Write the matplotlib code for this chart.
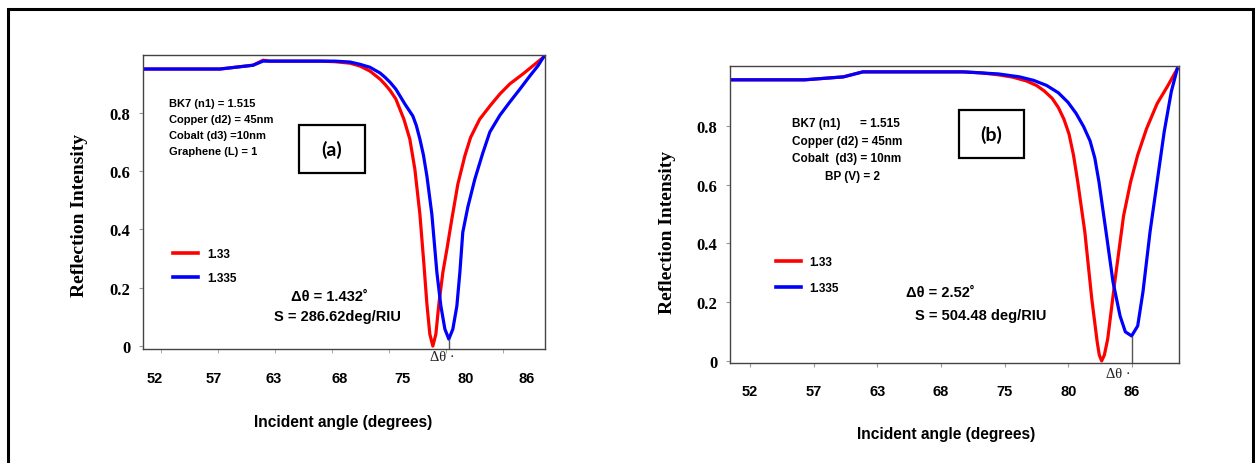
import matplotlib
matplotlib.use('Agg')
import matplotlib.pyplot as plt
from matplotlib.patches import Rectangle
import numpy as np

# x tick labels (both panels), ticks evenly spaced between 52 and 86
tick_labels = ['52', '57', '63', '68', '75', '80', '86']
ytick_vals = [0, 0.2, 0.4, 0.6, 0.8]
ytick_labels = ['0', '0.2', '0.4', '0.6', '0.8']
legend_labels = ['1.33', '1.335']

# panel (a) - graphene
a_red_x = [50.21, 57.87, 61.15, 62.14, 62.84, 67.81, 69.30, 70.79, 71.80, 72.78, 73.80, 74.27, 74.80, 75.36,
           76.16, 76.75, 77.25, 77.75, 78.15, 78.45, 78.74, 79.04, 79.34, 79.64, 80.04, 80.44, 80.93, 81.53,
           82.22, 82.80, 83.70, 84.71, 85.70, 86.70, 88.00, 89.00, 90.18]
a_red_y = [0.949, 0.949, 0.962, 0.979, 0.976, 0.976, 0.974, 0.969, 0.959, 0.942, 0.914, 0.897, 0.875, 0.846,
           0.777, 0.709, 0.606, 0.452, 0.281, 0.144, 0.041, 0.0, 0.041, 0.144, 0.253, 0.332, 0.435, 0.555,
           0.651, 0.715, 0.777, 0.822, 0.863, 0.898, 0.932, 0.960, 0.993]
a_blue_x = [50.21, 57.87, 61.15, 62.14, 62.84, 67.81, 69.30, 70.79, 71.80, 72.78, 73.80, 74.27, 74.80, 75.36,
            76.26, 77.05, 77.40, 77.75, 78.10, 78.45, 78.94, 79.44, 79.84, 80.24, 80.63, 81.03, 81.43, 81.73,
            82.02, 82.52, 83.22, 84.00, 84.71, 85.70, 86.70, 87.70, 88.69, 89.50, 90.18]
a_blue_y = [0.949, 0.949, 0.962, 0.976, 0.976, 0.976, 0.976, 0.973, 0.965, 0.955, 0.935, 0.921, 0.903, 0.880,
            0.829, 0.788, 0.755, 0.709, 0.655, 0.582, 0.452, 0.253, 0.137, 0.058, 0.024, 0.058, 0.137, 0.253,
            0.390, 0.476, 0.572, 0.660, 0.733, 0.790, 0.836, 0.880, 0.925, 0.960, 0.997]
a_info = ['BK7 (n1) = 1.515', 'Copper (d2) = 45nm', 'Cobalt (d3) =10nm', 'Graphene (L) = 1']
a_result = ['\u0394\u03b8 = 1.432\u02da', 'S = 286.62deg/RIU']

# panel (b) - black phosphorus
b_red_x = [50.35, 56.85, 60.30, 62.03, 70.98, 72.50, 74.12, 75.40, 76.62, 77.50, 78.20, 78.90, 79.45, 79.95,
           80.40, 80.80, 81.18, 81.81, 82.43, 82.91, 83.10, 83.31, 83.55, 83.85, 84.48, 85.26, 85.89, 86.52,
           87.31, 88.25, 89.19, 90.04]
b_red_y = [0.956, 0.956, 0.966, 0.983, 0.983, 0.980, 0.973, 0.965, 0.952, 0.937, 0.918, 0.893, 0.862, 0.822,
           0.772, 0.700, 0.609, 0.439, 0.211, 0.065, 0.020, 0.0, 0.020, 0.075, 0.269, 0.493, 0.609, 0.700,
           0.790, 0.875, 0.935, 0.993]
b_blue_x = [50.35, 56.85, 60.30, 62.03, 70.98, 74.12, 76.00, 77.26, 78.40, 79.45, 80.30, 81.03, 81.70, 82.28,
            82.70, 83.07, 83.70, 84.32, 84.95, 85.42, 85.98, 86.52, 86.99, 87.62, 88.25, 88.88, 89.51, 90.04]
b_blue_y = [0.956, 0.956, 0.966, 0.983, 0.983, 0.976, 0.966, 0.954, 0.937, 0.912, 0.880, 0.842, 0.797, 0.748,
            0.690, 0.609, 0.439, 0.269, 0.153, 0.099, 0.085, 0.119, 0.235, 0.439, 0.609, 0.779, 0.915, 0.993]
b_info = ['BK7 (n1)      = 1.515', 'Copper (d2) = 45nm', 'Cobalt  (d3) = 10nm', 'BP (V) = 2']
b_result = ['\u0394\u03b8 = 2.52\u02da', 'S = 504.48 deg/RIU']

tick_pos = np.linspace(52, 86, 7)
# where the pasted labels of panel (a) sit (they are off the tick marks)
a_label_pos = [51.40, 57.27, 63.23, 69.80, 76.06, 82.32, 88.39]

W, H = 1255, 464
fig = plt.figure(figsize=(W / 100, H / 100), dpi=100)
fig.patch.set_facecolor('white')

sans = 'Liberation Sans'
serif = 'Liberation Serif'


def base_axes(rect, ylim):
    ax = fig.add_axes(rect)
    ax.set_xlim(50.2, 90.2)
    ax.set_ylim(*ylim)
    for s in ax.spines.values():
        s.set_color('#444444')
        s.set_linewidth(1.0)
    ax.set_yticks(ytick_vals)
    ax.set_yticklabels(ytick_labels, fontfamily=serif, fontweight='bold', fontsize=12)
    ax.tick_params(axis='y', length=3, color='#999999', pad=6)
    return ax


def dress(ax, red_x, red_y, blue_x, blue_y, info, result, box_label, lay):
    ax.plot(red_x, red_y, color='red', lw=2.3, solid_joinstyle='round')
    ax.plot(blue_x, blue_y, color='blue', lw=2.3, solid_joinstyle='round')
    # delta theta marker at the blue minimum
    i = int(np.argmin(blue_y))
    ax.vlines(blue_x[i], ax.get_ylim()[0], blue_y[i], color='#555555', lw=1)
    ax.text(lay['dt'][0], lay['dt'][1], '\u0394\u03b8 \u00b7', transform=ax.transAxes, ha='center', va='center',
            fontfamily=serif, fontsize=10.5, color='#222222')

    ax.set_ylabel('Reflection Intensity', fontfamily=serif, fontweight='bold', fontsize=14, va='center')
    ax.yaxis.set_label_coords(*lay['ylab'])
    ax.set_xlabel('Incident angle (degrees)', fontfamily=sans, fontweight='bold', fontsize=11.2, va='center')
    ax.xaxis.set_label_coords(*lay['xlab'])

    for k, line in enumerate(info):
        ax.text(lay['info_x'][k], lay['info_y'][k], line, transform=ax.transAxes, ha='left', va='center',
                fontfamily=sans, fontweight='bold', fontsize=lay['info_fs'])

    bx, by, bw, bh = lay['box']
    ax.add_patch(Rectangle((bx, by), bw, bh, transform=ax.transAxes, fill=False, ec='black', lw=1.6))
    ax.text(bx + bw / 2, by + bh / 2, box_label, transform=ax.transAxes, ha='center', va='center',
            fontfamily='Lato', fontweight='bold', fontsize=14)

    for k, line in enumerate(result):
        ax.text(lay['res_x'][k], lay['res_y'][k], line, transform=ax.transAxes, ha=lay['res_ha'], va='center',
                fontfamily=sans, fontweight='bold', fontsize=10.5)

    leg = ax.legend(legend_labels, loc='upper left', bbox_to_anchor=lay['leg'], frameon=False,
                    handlelength=2.1, handletextpad=0.75, labelspacing=lay['leg_sp'], borderpad=0,
                    borderaxespad=0, prop=dict(family=sans, weight='bold', size=8.5))
    for h in leg.get_lines():
        h.set_linewidth(2.6)


# ---- panel (a)
ax1 = base_axes([143 / W, 1 - 350 / H, 402 / W, 294 / H], (-0.010, 0.997))
ax1.set_xticks(a_label_pos)
ax1.set_xticklabels(tick_labels, fontfamily=sans, fontweight='bold', fontsize=10.5)
ax1.set_xticks(tick_pos, minor=True)
ax1.tick_params(axis='x', which='major', length=0, pad=16)
ax1.tick_params(axis='x', which='minor', length=3, color='#999999')
dress(ax1, a_red_x, a_red_y, a_blue_x, a_blue_y, a_info, a_result, '(a)',
      dict(dt=(0.744, -0.027), ylab=(-0.157, 0.459), xlab=(0.4975, -0.245),
           info_x=[0.065] * 4, info_y=[0.837, 0.783, 0.728, 0.674], info_fs=8,
           box=(0.388, 0.599, 0.164, 0.163), res_x=[0.465, 0.483], res_y=[0.180, 0.112], res_ha='center',
           leg=(0.075, 0.343), leg_sp=1.0))

# ---- panel (b)
ax2 = base_axes([730 / W, 1 - 364 / H, 449 / W, 297 / H], (-0.007, 1.003))
ax2.set_xticks(tick_pos)
ax2.set_xticklabels(tick_labels, fontfamily=sans, fontweight='bold', fontsize=10.5)
ax2.tick_params(axis='x', length=3, color='#999999', pad=12)
dress(ax2, b_red_x, b_red_y, b_blue_x, b_blue_y, b_info, b_result, '(b)',
      dict(dt=(0.864, -0.037), ylab=(-0.140, 0.444), xlab=(0.481, -0.239),
           info_x=[0.138, 0.138, 0.138, 0.212], info_y=[0.808, 0.747, 0.690, 0.630], info_fs=8.5,
           box=(0.509, 0.690, 0.146, 0.162), res_x=[0.392, 0.412], res_y=[0.239, 0.162], res_ha='left',
           leg=(0.102, 0.360), leg_sp=1.15))

# outer frame (bottom edge runs off the picture)
fig.add_artist(Rectangle((8 / W, -0.1), (1253 - 8) / W, 1.1 - 10 / H, transform=fig.transFigure,
                         fill=False, ec='black', lw=2.2, clip_on=False))

fig.savefig('out.png', dpi=100)
